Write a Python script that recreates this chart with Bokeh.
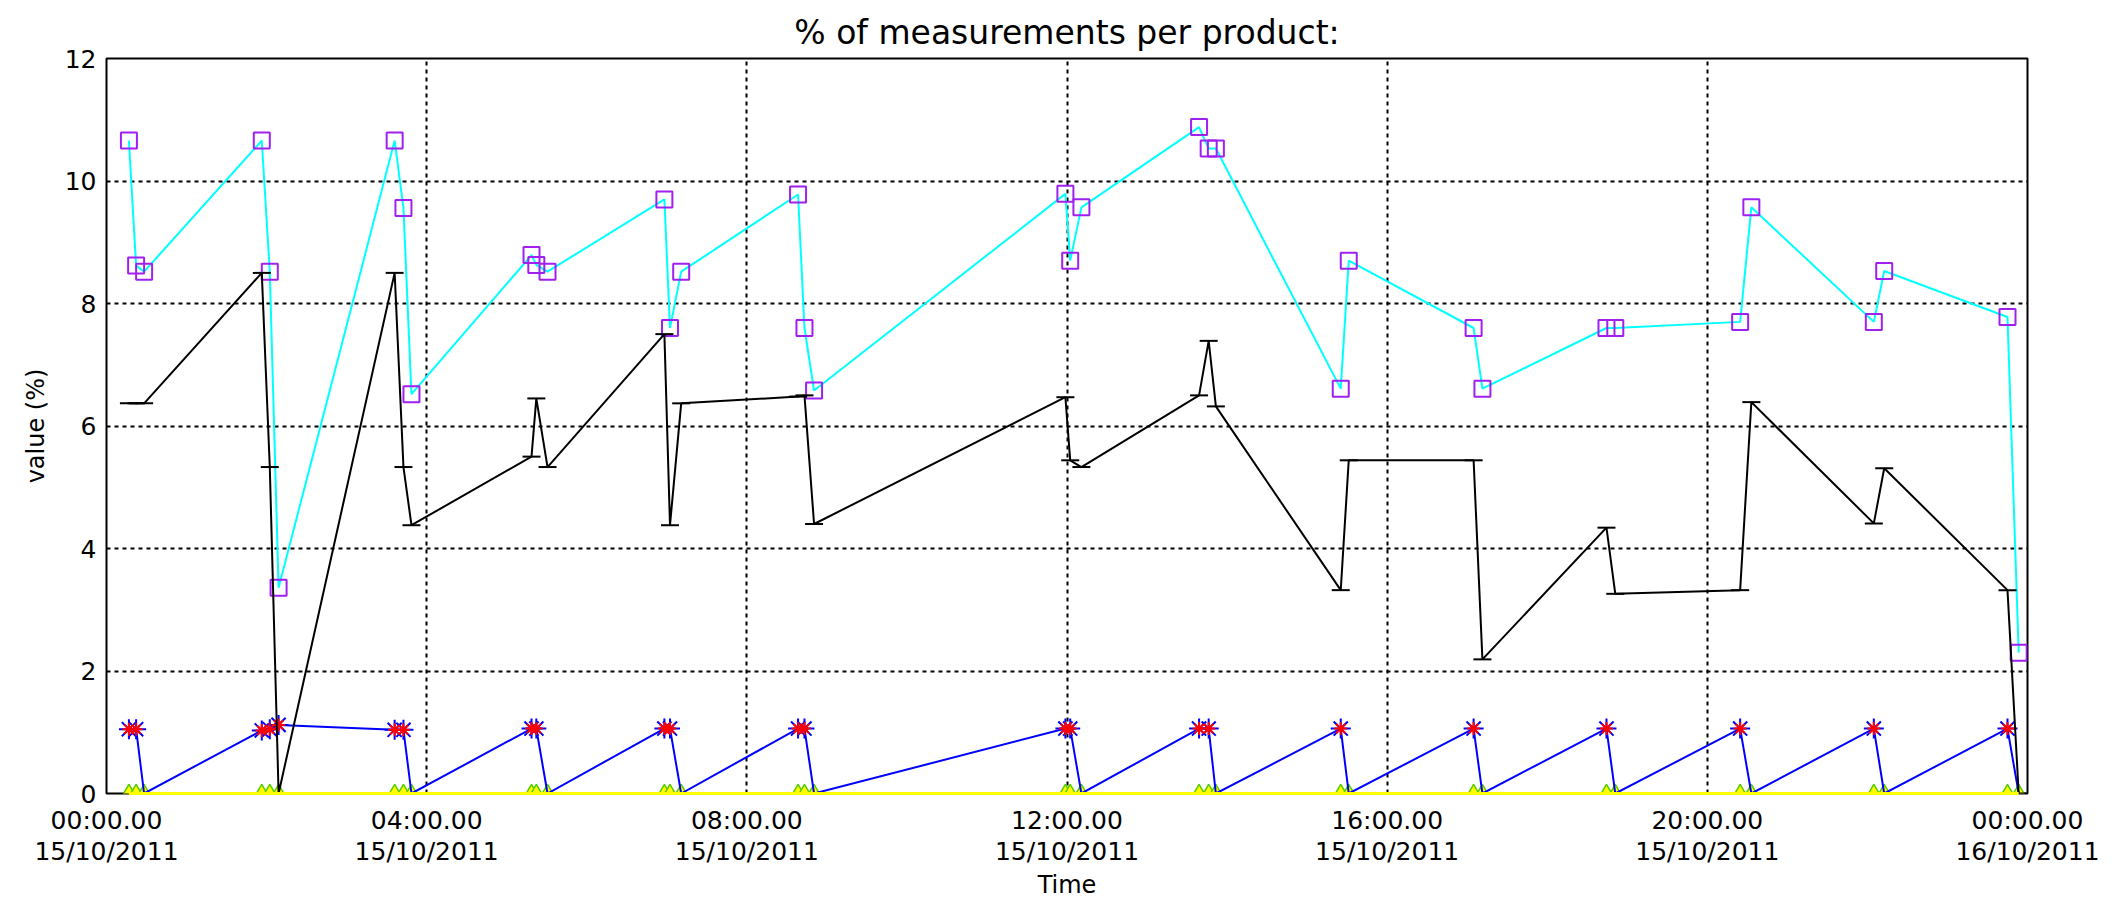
from bokeh.plotting import figure
from bokeh.models import Range1d, FixedTicker, ColumnDataSource
from bokeh.embed import file_html
from bokeh.resources import INLINE

# Measurement times, in hours after 00:00 on 15/10/2011
times = [0.28, 0.37, 0.47, 1.94, 2.04, 2.15, 3.60, 3.71, 3.81,
         5.31, 5.37, 5.51, 6.97, 7.04, 7.18, 8.64, 8.72, 8.84,
         11.98, 12.04, 12.18, 13.65, 13.77, 13.86, 15.42, 15.52,
         17.08, 17.19, 18.74, 18.85, 20.41, 20.55, 22.08, 22.21,
         23.75, 23.89]

# % per product (one list per product)
pct_cyan = [10.66, 8.62, 8.52, 10.66, 8.52, 3.36, 10.66, 9.56, 6.52,
            8.79, 8.63, 8.52, 9.70, 7.60, 8.52, 9.78, 7.60, 6.58,
            9.79, 8.70, 9.57, 10.88, 10.53, 10.53, 6.61, 8.70,
            7.60, 6.61, 7.60, 7.60, 7.70, 9.57, 7.70, 8.53,
            7.78, 2.30]
pct_black = [6.37, 6.37, 6.37, 8.50, 5.33, 0.00, 8.50, 5.33, 4.38,
             5.50, 6.45, 5.33, 7.50, 4.38, 6.37, 6.48, 6.50, 4.40,
             6.47, 5.44, 5.33, 6.50, 7.39, 6.32, 3.32, 5.44,
             5.44, 2.19, 4.34, 3.26, 3.32, 6.39, 4.41, 5.31,
             3.32, 0.00]
pct_blue = [1.05, 1.05, 0.00, 1.03, 1.05, 1.12, 1.04, 1.04, 0.00,
            1.06, 1.06, 0.00, 1.06, 1.06, 0.00, 1.06, 1.06, 0.00,
            1.06, 1.06, 0.00, 1.06, 1.06, 0.00, 1.06, 0.00,
            1.06, 0.00, 1.06, 0.00, 1.06, 0.00, 1.06, 0.00,
            1.06, 0.00]
nan = float("nan")
pct_red = [1.05, 1.05, nan, 1.03, 1.05, 1.12, 1.04, 1.04, nan,
           1.06, 1.06, nan, 1.06, 1.06, nan, 1.06, 1.06, nan,
           1.06, 1.06, nan, 1.06, 1.06, nan, 1.06, nan,
           1.06, nan, 1.06, nan, 1.06, nan, 1.06, nan,
           1.06, nan]
pct_yellow = [0.0, 0.0, 0.0, 0.0, 0.0, 0.0, 0.0, 0.0, 0.0,
              0.0, 0.0, 0.0, 0.0, 0.0, 0.0, 0.0, 0.0, 0.0,
              0.0, 0.0, 0.0, 0.0, 0.0, 0.0, 0.0, 0.0,
              0.0, 0.0, 0.0, 0.0, 0.0, 0.0, 0.0, 0.0,
              0.0, 0.0]

tick_hours = [0, 4, 8, 12, 16, 20, 24]
tick_labels = ["00:00.00\n15/10/2011", "04:00.00\n15/10/2011",
               "08:00.00\n15/10/2011", "12:00.00\n15/10/2011",
               "16:00.00\n15/10/2011", "20:00.00\n15/10/2011",
               "00:00.00\n16/10/2011"]
y_ticks = [0, 2, 4, 6, 8, 10, 12]

FONT = "DejaVu Sans"

src = ColumnDataSource(dict(t=times, cyan=pct_cyan, black=pct_black,
                            blue=pct_blue, red=pct_red, yellow=pct_yellow))
peak_idx = [i for i, v in enumerate(pct_blue) if v > 0]
src_blue_pk = ColumnDataSource(dict(t=[times[i] for i in peak_idx],
                                    v=[pct_blue[i] for i in peak_idx]))

p = figure(width=2116, height=902, output_backend="svg", toolbar_location=None,
           x_range=Range1d(0, 24), y_range=Range1d(0, 12),
           min_border_left=106, min_border_right=89, min_border_top=58,
           min_border_bottom=109,
           title="% of measurements per product:")

p.background_fill_color = "white"
p.border_fill_color = "white"
p.outline_line_color = "black"
p.outline_line_width = 2
p.outline_line_alpha = 1.0

p.title.align = "center"
p.title.text_font = FONT
p.title.text_font_size = "33px"
p.title.text_font_style = "normal"
p.title.text_color = "black"
p.title.standoff = 14

p.xaxis.ticker = FixedTicker(ticks=tick_hours)
p.xaxis.major_label_overrides = {h: lab for h, lab in zip(tick_hours, tick_labels)}
p.yaxis.ticker = FixedTicker(ticks=y_ticks)
p.xgrid.ticker = FixedTicker(ticks=tick_hours)
p.ygrid.ticker = FixedTicker(ticks=y_ticks)

for ax in (p.xaxis, p.yaxis):
    ax.axis_line_color = None
    ax.major_tick_line_color = None
    ax.minor_tick_line_color = None
    ax.major_tick_out = 0
    ax.major_tick_in = 0
    ax.minor_tick_out = 0
    ax.minor_tick_in = 0
    ax.major_label_text_font = FONT
    ax.major_label_text_font_size = "25px"
    ax.major_label_text_color = "black"
    ax.axis_label_text_font = FONT
    ax.axis_label_text_font_size = "24px"
    ax.axis_label_text_font_style = "normal"
    ax.axis_label_text_color = "black"

p.xaxis.axis_label = "Time"
p.xaxis.major_label_standoff = 12
p.xaxis.major_label_text_line_height = 1.1
p.xaxis.axis_label_standoff = 2
p.xaxis.axis_label_text_line_height = 1.0
p.yaxis.axis_label = "value (%)"
p.yaxis.major_label_standoff = 10
p.yaxis.axis_label_standoff = 12

for g in (p.xgrid, p.ygrid):
    g.grid_line_color = "black"
    g.grid_line_width = 2
    g.grid_line_dash = "4 4"
    g.grid_line_alpha = 1.0

# yellow product (zero)
p.scatter("t", "yellow", source=src, marker="triangle", size=16,
          fill_color="#ffff00", line_color="#55cc00", line_width=1.5)
p.line("t", "yellow", source=src, line_color="#ffff00", line_width=3,
       level="overlay")

# blue product
p.line("t", "blue", source=src, line_color="#0000ff", line_width=2)
p.scatter("t", "v", source=src_blue_pk, marker="asterisk", size=20,
          line_color="#0000ff", line_width=2)
# red product
p.scatter("t", "red", source=src, marker="asterisk", size=13,
          line_color="#ff0000", line_width=2)

# cyan product
p.line("t", "cyan", source=src, line_color="#00ffff", line_width=2)
p.scatter("t", "cyan", source=src, marker="square", size=16,
          fill_color=None, line_color="#a020f0", line_width=2)

# black product
p.line("t", "black", source=src, line_color="black", line_width=2)
p.scatter("t", "black", source=src, marker="dash", size=18,
          line_color="black", line_width=2)

open("out.html", "w").write(file_html(p, INLINE))
